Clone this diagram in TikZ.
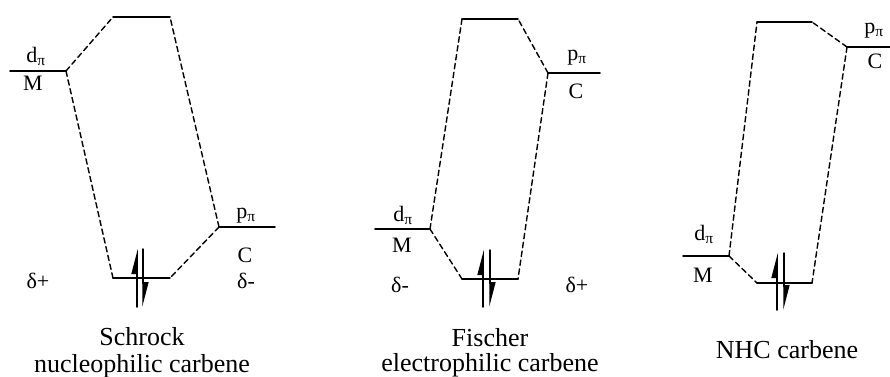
\documentclass[tikz,border=0pt]{standalone}
\usepackage{fontspec}
\setmainfont{Liberation Serif}
\usetikzlibrary{arrows.meta}

\tikzset{
  level/.style={line width=1.8pt},
  link/.style={line width=1.4pt, dash pattern=on 5.5pt off 3.5pt},
  spin/.style={line width=1.5pt, -{Triangle[harpoon, length=22pt, width=11pt]}},
  lbl/.style={anchor=base, inner sep=0pt, font=\fontsize{22}{26}\selectfont},
  captxt/.style={anchor=base, inner sep=0pt, font=\fontsize{26}{30}\selectfont}
}

\begin{document}
\begin{tikzpicture}[line cap=round,line join=round,x=1pt,y=1pt]
			\useasboundingbox (0,0) rectangle (890,376);
			% Schrock
			\coordinate (sml) at (10,305);   \coordinate (smr) at (66,305);
			\coordinate (stl) at (113,359);  \coordinate (str) at (170,359);
			\coordinate (sbl) at (113,98);   \coordinate (sbr) at (170,98);
			\coordinate (scl) at (219,149);  \coordinate (scr) at (275,149);
			\draw[level] (sml)-- (smr);
			\draw[level] (stl)-- (str);
			\draw[level] (sbl)-- (sbr);
			\draw[level] (scl)-- (scr);
			\draw[link] (smr)-- (stl);
			\draw[link] (smr)-- (sbl);
			\draw[link] (scl)-- (str);
			\draw[link] (scl)-- (sbr);
			\coordinate (sua) at (137,69);  \coordinate (sub) at (137,127);
			\coordinate (sda) at (143,127); \coordinate (sdb) at (143,69);
			\draw[spin] (sua)-- (sub);
			\draw[spin] (sda)-- (sdb);
			\node[lbl] (sdpi) at (36,314) {d\textsubscript{π}};
			\node[lbl] (sm) at (33,286) {M};
			\node[lbl] (sppi) at (246,158) {p\textsubscript{π}};
			\node[lbl] (sc) at (245,114) {C};
			\node[lbl] (sdp) at (38,88) {δ+};
			\node[lbl] (sdm) at (246,88) {δ-};
			\node[captxt] (s1) at (142,31) {Schrock};
			\node[captxt] (s2) at (142,4) {nucleophilic carbene};
			% Fischer
			\coordinate (fml) at (375,147);  \coordinate (fmr) at (430,147);
			\coordinate (ftl) at (462,357);  \coordinate (ftr) at (518,357);
			\coordinate (fbl) at (462,97);   \coordinate (fbr) at (518,97);
			\coordinate (fcl) at (548,303);  \coordinate (fcr) at (600,303);
			\draw[level] (fml)-- (fmr);
			\draw[level] (ftl)-- (ftr);
			\draw[level] (fbl)-- (fbr);
			\draw[level] (fcl)-- (fcr);
			\draw[link] (fmr)-- (ftl);
			\draw[link] (fmr)-- (fbl);
			\draw[link] (fcl)-- (ftr);
			\draw[link] (fcl)-- (fbr);
			\coordinate (fua) at (483,69);  \coordinate (fub) at (483,126);
			\coordinate (fda) at (490,126); \coordinate (fdb) at (490,69);
			\draw[spin] (fua)-- (fub);
			\draw[spin] (fda)-- (fdb);
			\node[lbl] (fdpi) at (403,155) {d\textsubscript{π}};
			\node[lbl] (fm) at (402,124) {M};
			\node[lbl] (fppi) at (577,316) {p\textsubscript{π}};
			\node[lbl] (fc) at (576,278) {C};
			\node[lbl] (fdm) at (400,84) {δ-};
			\node[lbl] (fdp) at (577,84) {δ+};
			\node[captxt] (f1) at (490,30) {Fischer};
			\node[captxt] (f2) at (490,5) {electrophilic carbene};
			% NHC
			\coordinate (nml) at (683,120);  \coordinate (nmr) at (729,120);
			\coordinate (ntl) at (757,354);  \coordinate (ntr) at (812,354);
			\coordinate (nbl) at (757,93);   \coordinate (nbr) at (812,93);
			\coordinate (ncl) at (847,329);  \coordinate (ncr) at (890,329);
			\draw[level] (nml)-- (nmr);
			\draw[level] (ntl)-- (ntr);
			\draw[level] (nbl)-- (nbr);
			\draw[level] (ncl)-- (ncr);
			\draw[link] (nmr)-- (ntl);
			\draw[link] (nmr)-- (nbl);
			\draw[link] (ncl)-- (ntr);
			\draw[link] (ncl)-- (nbr);
			\coordinate (nua) at (777,66);  \coordinate (nub) at (777,123);
			\coordinate (nda) at (784,123); \coordinate (ndb) at (784,66);
			\draw[spin] (nua)-- (nub);
			\draw[spin] (nda)-- (ndb);
			\node[lbl] (ndpi) at (704,136) {d\textsubscript{π}};
			\node[lbl] (nm) at (703,94) {M};
			\node[lbl] (nppi) at (874,343) {p\textsubscript{π}};
			\node[lbl] (nc) at (875,308) {C};
			\node[captxt] (n1) at (787,18) {NHC carbene};
\end{tikzpicture}
\end{document}
